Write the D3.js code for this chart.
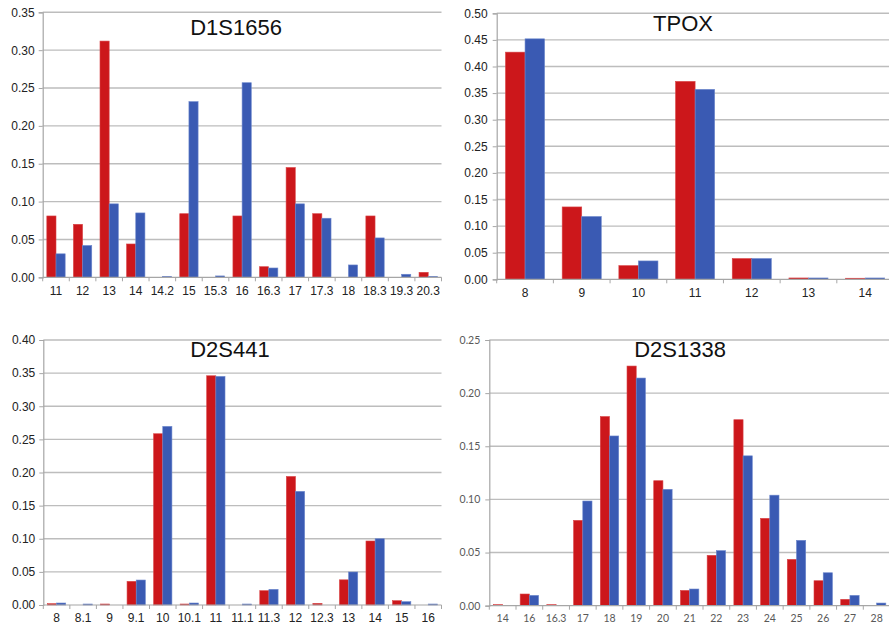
<!DOCTYPE html>
<html>
<head>
<meta charset="utf-8">
<script src="https://cdn.jsdelivr.net/npm/d3@7/dist/d3.min.js"></script>
<style>
  html, body { margin: 0; padding: 0; background: #fff; }
  svg { display: block; }
</style>
</head>
<body>
<svg id="chart" width="889" height="629"></svg>
<script>
// Allele frequency distributions for four STR loci, two populations each.

// D1S1656
const d1s1656Alleles = ["11","12","13","14","14.2","15","15.3","16","16.3","17","17.3","18","18.3","19.3","20.3"];
const d1s1656Red  = [0.081,0.070,0.312,0.044,0.000,0.084,0.000,0.081,0.014,0.145,0.084,0.000,0.081,0.000,0.0066];
const d1s1656Blue = [0.031,0.042,0.097,0.085,0.0013,0.232,0.0018,0.257,0.0123,0.097,0.078,0.0163,0.052,0.004,0.0013];
const d1s1656Ticks = [0,0.05,0.10,0.15,0.20,0.25,0.30,0.35];

// TPOX
const tpoxAlleles = ["8","9","10","11","12","13","14"];
const tpoxRed  = [0.427,0.136,0.0257,0.372,0.039,0.0025,0.002];
const tpoxBlue = [0.452,0.118,0.0345,0.357,0.039,0.0025,0.0025];
const tpoxTicks = [0,0.05,0.10,0.15,0.20,0.25,0.30,0.35,0.40,0.45,0.50];

// D2S441
const d2s441Alleles = ["8","8.1","9","9.1","10","10.1","11","11.1","11.3","12","12.3","13","14","15","16"];
const d2s441Red  = [0.002,0.000,0.0015,0.0357,0.2585,0.0015,0.346,0.000,0.0216,0.194,0.0025,0.038,0.0966,0.0065,0.000];
const d2s441Blue = [0.003,0.0015,0.000,0.0377,0.2696,0.003,0.345,0.0015,0.0236,0.1715,0.000,0.0498,0.100,0.005,0.0015];
const d2s441Ticks = [0,0.05,0.10,0.15,0.20,0.25,0.30,0.35,0.40];

// D2S1338
const d2s1338Alleles = ["14","16","16.3","17","18","19","20","21","22","23","24","25","26","27","28"];
const d2s1338Red  = [0.001,0.011,0.001,0.0803,0.178,0.2255,0.1176,0.0144,0.0474,0.175,0.0822,0.0436,0.0235,0.006,0.000];
const d2s1338Blue = [0.000,0.0097,0.000,0.0985,0.1597,0.2142,0.1095,0.0157,0.0518,0.141,0.104,0.0615,0.031,0.0097,0.0025];
const d2s1338Ticks = [0,0.05,0.10,0.15,0.20,0.25];

const RED = "#cc171b";
const BLUE = "#3a5ab3";

const svg = d3.select("#chart");

function drawPanel(opt) {
  const g = svg.append("g");
  const x = d3.scaleBand().domain(opt.alleles).range([opt.left, opt.right]).paddingInner(0).paddingOuter(0);
  const xs = d3.scaleBand().domain(["red","blue"]).range([0, x.bandwidth()]).paddingInner(0).paddingOuter(0.45);
  const yMax = opt.ticks[opt.ticks.length - 1];
  const y = d3.scaleLinear().domain([0, yMax]).range([opt.bottom, opt.top]);

  // horizontal gridlines
  g.append("g").selectAll("line").data(opt.ticks.filter(t => t > 0)).join("line")
    .attr("x1", opt.left).attr("x2", opt.right)
    .attr("y1", d => y(d)).attr("y2", d => y(d))
    .attr("stroke", "#bdbdbd").attr("stroke-width", 1.4);

  // bars
  const rows = opt.alleles.map((a, i) => ({a, red: opt.red[i], blue: opt.blue[i]}));
  const grp = g.append("g").selectAll("g").data(rows).join("g")
    .attr("transform", d => `translate(${x(d.a)},0)`);
  grp.selectAll("rect").data(d => [{k: "red", v: d.red}, {k: "blue", v: d.blue}].filter(e => e.v > 0)).join("rect")
    .attr("x", d => xs(d.k)).attr("width", xs.bandwidth())
    .attr("y", d => y(d.v)).attr("height", d => opt.bottom - y(d.v))
    .attr("fill", d => d.k === "red" ? RED : BLUE)
    .attr("stroke", d => d.k === "red" ? "#d94447" : "#6c87cc")
    .attr("stroke-width", 0.6);

  // y axis
  const yAxis = d3.axisLeft(y).tickValues(opt.ticks).tickFormat(d3.format(".2f")).tickSize(4).tickPadding(opt.yPad);
  const ya = g.append("g").attr("transform", `translate(${opt.left},0)`).call(yAxis);
  ya.select(".domain").attr("stroke", "#a6a6a6").attr("stroke-width", 1.2);
  ya.selectAll(".tick line").attr("stroke", "#a6a6a6");
  ya.selectAll("text").attr("font-family", opt.tickFont).attr("font-size", opt.tickSize).attr("fill", opt.tickColor);

  // x axis: tick marks on category boundaries, labels centered
  const bounds = d3.range(opt.alleles.length + 1).map(i => opt.left + i * x.step());
  g.append("line").attr("x1", opt.left).attr("x2", opt.right).attr("y1", opt.bottom).attr("y2", opt.bottom)
    .attr("stroke", "#a6a6a6").attr("stroke-width", 1.2);
  g.append("g").selectAll("line").data(bounds).join("line")
    .attr("x1", d => d).attr("x2", d => d).attr("y1", opt.bottom).attr("y2", opt.bottom + 4)
    .attr("stroke", "#a6a6a6");
  g.append("g").selectAll("text").data(opt.alleles).join("text")
    .attr("x", d => x(d) + x.bandwidth() / 2).attr("y", opt.bottom + opt.xLabelDy)
    .attr("text-anchor", "middle")
    .attr("font-family", opt.tickFont).attr("font-size", opt.tickSize).attr("fill", opt.tickColor)
    .text(d => d);

  // locus name
  g.append("text").attr("x", opt.titleX).attr("y", opt.titleY).attr("text-anchor", "middle")
    .attr("font-family", "Liberation Sans, Arial, sans-serif").attr("font-size", 22).attr("fill", "#111")
    .text(opt.title);
}

const arial = "Liberation Sans, Arial, sans-serif";

drawPanel({title: "D1S1656", alleles: d1s1656Alleles, red: d1s1656Red, blue: d1s1656Blue, ticks: d1s1656Ticks,
  left: 42.7, right: 441.5, top: 12.3, bottom: 277.3, titleX: 236, titleY: 35,
  tickFont: arial, tickSize: 12, tickColor: "#222", yPad: 4, xLabelDy: 18});

drawPanel({title: "TPOX", alleles: tpoxAlleles, red: tpoxRed, blue: tpoxBlue, ticks: tpoxTicks,
  left: 496.7, right: 893.5, top: 13.3, bottom: 279.3, titleX: 683, titleY: 30.5,
  tickFont: arial, tickSize: 12, tickColor: "#222", yPad: 5, xLabelDy: 17.5});

drawPanel({title: "D2S441", alleles: d2s441Alleles, red: d2s441Red, blue: d2s441Blue, ticks: d2s441Ticks,
  left: 43.3, right: 441.5, top: 340, bottom: 605, titleX: 230, titleY: 357,
  tickFont: arial, tickSize: 12, tickColor: "#222", yPad: 4, xLabelDy: 17});

drawPanel({title: "D2S1338", alleles: d2s1338Alleles, red: d2s1338Red, blue: d2s1338Blue, ticks: d2s1338Ticks,
  left: 489.3, right: 890, top: 340, bottom: 605.7, titleX: 680, titleY: 356.5,
  tickFont: "Lato, sans-serif", tickSize: 10.5, tickColor: "#595959", yPad: 5, xLabelDy: 16.5});
</script>
</body>
</html>
